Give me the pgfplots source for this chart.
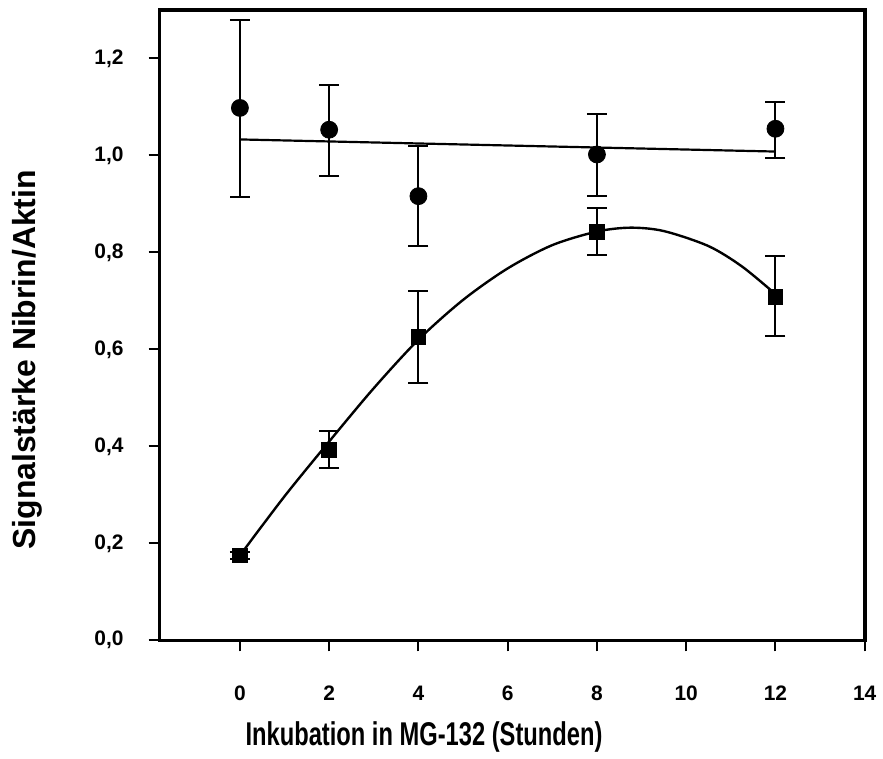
\documentclass[border=0pt]{standalone}
\usepackage{fontspec}
\setmainfont{Liberation Sans}
\usepackage{graphicx}
\usepackage{pgfplots}
\pgfplotsset{compat=1.18}
\begin{document}
\begin{tikzpicture}
\begin{axis}[
  scale only axis, width=353.5pt, height=316pt,
  xmin=-1.8, xmax=14, ymin=0, ymax=1.3,
  xtick={0,2,4,6,8,10,12,14},
  ytick={0,0.2,0.4,0.6,0.8,1.0,1.2},
  tick pos=left,
  axis line style={line width=1.8pt},
  tick align=outside,
  tick style={line width=1pt, black},
  major tick length=5.5pt,
  /pgf/number format/assume math mode=true,
  xticklabel style={font=\bfseries\fontsize{10.5}{12}\selectfont, yshift=-14pt},
  yticklabel style={/pgf/number format/fixed, /pgf/number format/fixed zerofill,
    /pgf/number format/precision=1, /pgf/number format/use comma,
    font=\bfseries\fontsize{10.5}{12}\selectfont, xshift=-9pt},
  xlabel={\scalebox{0.72}[1]{Inkubation in MG-132 (Stunden)}},
  ylabel={Signalstärke Nibrin/Aktin},
  xlabel style={font=\bfseries\fontsize{16.5}{19}\selectfont, at={(axis description cs:0.375,-0.153)}, anchor=center},
  ylabel style={font=\bfseries\fontsize{16}{19}\selectfont, at={(axis description cs:-0.188,0.445)}, anchor=center, rotate=0},
  clip=false,
]
% linear fit for circles
\addplot[black, line width=1.1pt] coordinates {(0,1.033) (12,1.008)};
% smooth curve for squares
\addplot[black, line width=1.2pt, smooth] coordinates {
  (0,0.175) (1,0.297) (2,0.410) (3,0.520) (4,0.620) (5,0.702)
  (6,0.767) (7,0.815) (8,0.843) (8.75,0.851) (9.5,0.844) (10.5,0.813)
  (11.25,0.771) (12,0.714)};
% circles
\addplot[black, only marks, mark=*, mark size=4.25pt,
  error bars/.cd, y dir=both, y explicit,
  error bar style={line width=1pt},
  error mark options={rotate=90, mark size=5pt, line width=1pt}]
  coordinates {
  (0,1.098) += (0,0.181) -= (0,0.184)
  (2,1.053) += (0,0.093) -= (0,0.096)
  (4,0.916) += (0,0.103) -= (0,0.103)
  (8,1.002) += (0,0.084) -= (0,0.086)
  (12,1.055) += (0,0.056) -= (0,0.061)
  };
% squares
\addplot[black, only marks, mark=square*, mark size=3.7pt,
  error bars/.cd, y dir=both, y explicit,
  error bar style={line width=1pt},
  error mark options={rotate=90, mark size=5pt, line width=1pt}]
  coordinates {
  (0,0.175) += (0,0.008) -= (0,0.008)
  (2,0.393) += (0,0.039) -= (0,0.037)
  (4,0.625) += (0,0.096) -= (0,0.095)
  (8,0.842) += (0,0.049) -= (0,0.047)
  (12,0.709) += (0,0.084) -= (0,0.082)
  };
\end{axis}
\path ([shift={(-80pt,-56.5pt)}]current axis.south west) rectangle ([shift={(8pt,5pt)}]current axis.north east);
\end{tikzpicture}
\end{document}
